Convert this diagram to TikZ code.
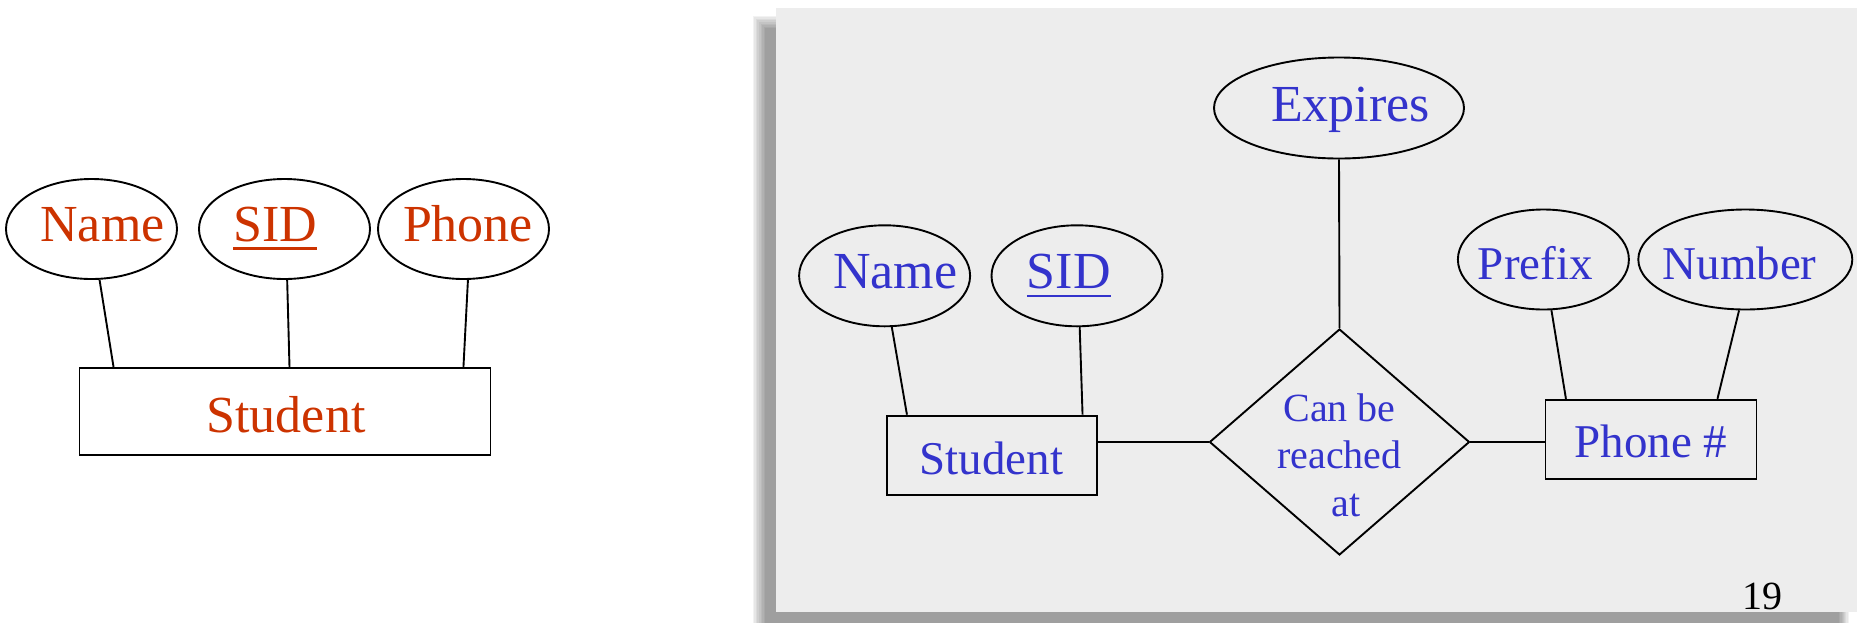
\documentclass[tikz,border=0pt]{standalone}
\usepackage{fontspec}
\setmainfont{Liberation Serif}
\usetikzlibrary{shapes.geometric,calc}
\definecolor{oRed}{RGB}{204,51,0}
\definecolor{eBlue}{RGB}{51,51,204}
\definecolor{panelGray}{RGB}{237,237,237}
\newcommand{\ulword}[1]{\setbox0=\hbox{#1}\rlap{\rule[-8.5pt]{\wd0}{2.6pt}}\box0}
\newcommand{\zbs}[2]{\makebox[0pt]{\hspace*{#1}\hspace*{#1}#2}}
\begin{document}
\begin{tikzpicture}[x=1pt,y=-1pt, line width=1.9pt,
  attr/.style={ellipse, draw=black, inner sep=0pt, text depth=0pt},
  ent/.style={rectangle, draw=black, inner sep=0pt, text depth=0pt},
  bigtxt/.style={font=\fontsize{52}{60}\selectfont},
  midtxt/.style={font=\fontsize{47}{54}\selectfont},
  smalltxt/.style={font=\fontsize{40}{47.5}\selectfont},
  conn/.style={draw=black, line width=1.9pt}
  ]
\useasboundingbox (0,0) rectangle (1864,622);
% ---------- left diagram ----------
\node[attr, bigtxt, text=oRed, minimum width=171pt, minimum height=100pt, text height=24pt] (nameL) at (91.5,229) {\zbs{11pt}{Name}};
\node[attr, bigtxt, text=oRed, minimum width=171pt, minimum height=100pt, text height=24pt] (sidL) at (284.5,229) {\zbs{-9.5pt}{\ulword{SID}}};
\node[attr, bigtxt, text=oRed, minimum width=171pt, minimum height=100pt, text height=24pt] (phoneL) at (463.5,229) {\zbs{4.5pt}{Phone}};
\node[ent, bigtxt, text=oRed, minimum width=411pt, minimum height=87pt, text height=42pt] (stuL) at (285,411.5) {\zbs{1pt}{Student}};
\draw[conn] (nameL.-81) -- ($(stuL.north west)+(35,0)$);
\draw[conn] (sidL.-87) -- ($(stuL.north)+(4.5,0)$);
\draw[conn] (phoneL.-85) -- ($(stuL.north east)+(-28,0)$);
% ---------- right panel ----------
\foreach \i in {1,...,9}
  \fill[black, opacity=0.05] (767-\i*1.6, 30-\i*1.6) rectangle (1838+\i*1.2, 640);
\fill[panelGray] (776,8) rectangle (1857,612);
\node[attr, bigtxt, text=eBlue, minimum width=171pt, minimum height=101pt, text height=26pt] (nameR) at (884.6,275.8) {\zbs{10.5pt}{Name}};
\node[attr, bigtxt, text=eBlue, minimum width=171pt, minimum height=101pt, text height=26pt] (sidR) at (1077,275.8) {\zbs{-8.3pt}{\ulword{SID}}};
\node[ent, midtxt, text=eBlue, minimum width=210pt, minimum height=79pt, text height=38pt] (stuR) at (991.6,455.1) {Student};
\node[attr, bigtxt, text=eBlue, minimum width=250pt, minimum height=101pt, text height=26pt] (expires) at (1339,108) {\zbs{11.5pt}{Expires}};
\node[diamond, draw=black, inner sep=0pt, minimum width=260pt, minimum height=226pt] (rel) at (1339.5,442) {};
\node[smalltxt, text=eBlue, align=center, inner sep=0pt] (relt) at (1339.5,455) {Can be\\reached\\\hspace*{13pt}at};
\node[ent, midtxt, text=eBlue, minimum width=211pt, minimum height=79pt, text height=36pt] (phone) at (1651,439.3) {Phone \#};
\node[attr, midtxt, text=eBlue, minimum width=171pt, minimum height=100pt, text height=40pt] (prefix) at (1543.4,259.5) {\zbs{-8pt}{Prefix}};
\node[attr, midtxt, text=eBlue, minimum width=214pt, minimum height=100pt, text height=40pt] (number) at (1745.3,259.5) {\zbs{-5.7pt}{Number}};
\node[smalltxt, anchor=base, inner sep=0pt] (pagenum) at (1762,609) {19};
\draw[conn] (nameR.-82) -- ($(stuR.north west)+(21.3,0)$);
\draw[conn] (sidR.-87) -- ($(stuR.north east)+(-15,0)$);
\draw[conn] (expires.south) -- (rel.north);
\draw[conn] (rel.west -| stuR.east) -- (rel.west);
\draw[conn] (rel.east) -- (rel.east -| phone.west);
\draw[conn] (prefix.-81) -- ($(phone.north west)+(21.4,0)$);
\draw[conn] (number.-97) -- ($(phone.north east)+(-40,0)$);
\end{tikzpicture}
\end{document}
